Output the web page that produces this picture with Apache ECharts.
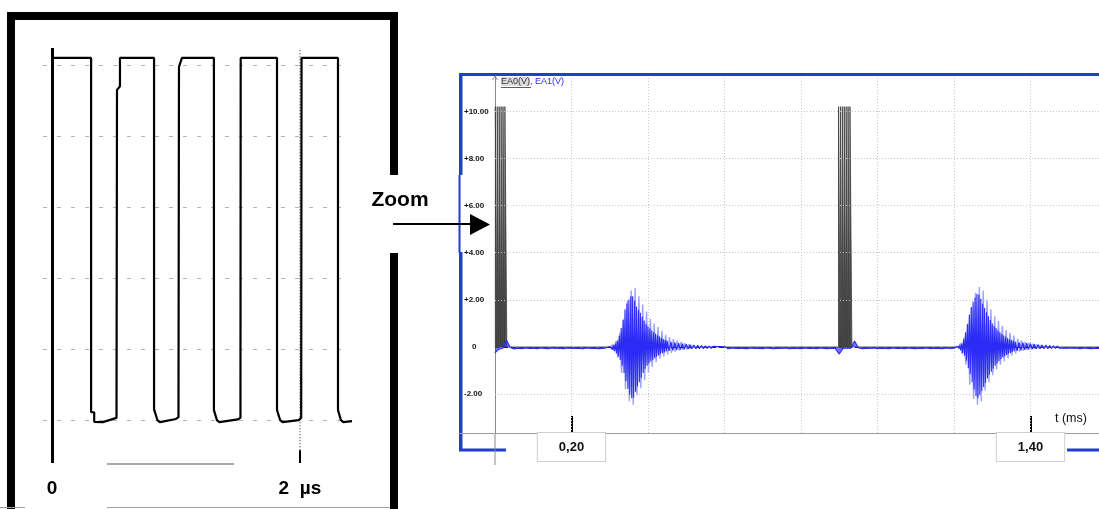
<!DOCTYPE html>
<html><head><meta charset="utf-8">
<script src="https://cdn.jsdelivr.net/npm/echarts@6/dist/echarts.min.js"></script>
<style>html,body{margin:0;padding:0;background:#fff}#c{width:1099px;height:509px}</style>
</head><body><div id="c"></div>
<script>
// ---------- Left panel: zoom on the emitted pulses (t in µs, U in V) ----------
const leftTickLabels = [0, 2];
const leftYGrid = [0, 2, 4, 6, 8, 10];
const leftWave = [
  [0.01,10.2],
  [0.315,10.2],[0.315,0.22],[0.34,0.22],[0.34,-0.05],[0.41,-0.06],[0.52,0.06],
  [0.524,0.06],[0.524,9.3],[0.548,9.4],[0.548,10.2],
  [0.823,10.2],[0.823,0.3],[0.85,0.0],[0.87,-0.06],[1.0,0.03],[1.02,0.08],
  [1.024,0.08],[1.024,9.95],[1.048,10.2],
  [1.306,10.2],[1.306,0.28],[1.33,0.0],[1.35,-0.06],[1.5,0.02],[1.52,0.06],
  [1.522,0.06],[1.522,10.2],
  [1.815,10.2],[1.815,0.28],[1.84,0.0],[1.86,-0.06],[1.99,0.0],[2.01,0.06],
  [2.013,0.06],[2.013,10.2],
  [2.307,10.2],[2.307,0.28],[2.33,0.0],[2.35,-0.06],[2.42,-0.03]
];

// ---------- Right panel: oscilloscope (t in ms, U in V) ----------
const rightTickLabels = [0.2, 1.4];
const rightXGrid = [0.2, 0.4, 0.6, 0.8, 1.0, 1.2, 1.4];
const rightYLabels = [-2, 0, 2, 4, 6, 8, 10];
const ea0High = 10.2;
const ea0Burst1 = [[0.001,0.005],[0.006,0.010],[0.011,0.015],[0.016,0.020],[0.021,0.025],[0.026,0.031]];
const ea0Burst2 = [[0.898,0.902],[0.903,0.907],[0.908,0.912],[0.913,0.917],[0.918,0.922],[0.923,0.927],[0.928,0.933]];
const ea0End = 1.579;

// EA1 samples (start time, sampling step, values)
const ea1BaseA = [-0.25,-0.1,-0.05,0.3,-0.02,-0.08,-0.05,-0.07,-0.04,-0.06,-0.05,-0.07,-0.04,-0.06,-0.07,-0.04,-0.06,-0.05,-0.07,-0.04,-0.06,-0.05,-0.06,-0.07,-0.04,-0.06,-0.05,-0.07,-0.06,-0.04];
const ea1Echo1 = [0.02,-0.06,0.05,-0.11,0.09,-0.18,0.15,-0.27,0.27,-0.4,0.48,-0.55,0.8,-0.8,1.15,-1.1,1.6,-1.45,1.85,-1.78,2.02,-2.02,2.15,-2.18,2.15,-2.15,1.95,-1.9,1.72,-1.68,1.58,-1.5,1.45,-1.3,1.28,-1.1,1.12,-0.92,0.98,-0.8,0.88,-0.7,0.79,-0.62,0.7,-0.55,0.63,-0.48,0.56,-0.41,0.5,-0.36,0.44,-0.31,0.39,-0.26,0.34,-0.23,0.3,-0.19,0.26];
const ea1Tail1 = [-0.17,0.22,-0.14,0.19,-0.12,0.16,-0.11,0.14,-0.1,0.12,-0.09,0.1,-0.08,0.08,-0.08,0.07,-0.07,0.06,-0.07,0.05,-0.06,0.04,-0.06,0.03,-0.05,0.02,-0.05,0.02,-0.05,0.01];
const ea1BaseB = [-0.07,-0.04,-0.06,-0.05,-0.06,-0.07,-0.04,-0.06,-0.05,-0.07,-0.04,-0.06,-0.07,-0.05,-0.06,-0.04,-0.07,-0.05,-0.06,-0.07,-0.04,-0.06,-0.05,-0.07,-0.04,-0.06,-0.07,-0.05,-0.07,-0.3,-0.06,-0.04,-0.05,0.25,-0.03,-0.07,-0.05,-0.06,-0.04,-0.07,-0.05,-0.06,-0.07,-0.04,-0.06,-0.05,-0.07,-0.04,-0.06,-0.07,-0.05,-0.06,-0.04,-0.07,-0.05,-0.06,-0.07,-0.04,-0.06,-0.05];
const ea1Echo2 = [0.03,-0.07,0.07,-0.15,0.16,-0.25,0.32,-0.37,0.62,-0.58,0.98,-0.9,1.38,-1.15,1.7,-1.5,1.92,-1.8,2.1,-2.08,2.25,-2.18,2.22,-2.05,2.05,-1.87,1.83,-1.7,1.65,-1.52,1.47,-1.34,1.3,-1.18,1.14,-1.05,1.0,-0.92,0.89,-0.8,0.8,-0.7,0.71,-0.6,0.62,-0.52,0.55,-0.45,0.49,-0.39,0.43,-0.34,0.37,-0.28,0.33,-0.25,0.29,-0.21,0.26,-0.18,0.22];
const ea1Tail2 = [-0.16,0.2,-0.14,0.18,-0.12,0.16,-0.1,0.14,-0.09,0.12,-0.08,0.1,-0.08,0.09,-0.07,0.08,-0.07,0.06,-0.06,0.05,-0.06,0.04,-0.05,0.03,-0.05,0.02,-0.05,0.02,-0.04,0.01];
const ea1BaseC = [-0.05,-0.07,-0.04,-0.06,-0.07,-0.05,-0.06];
// lighter trace (larger excursions), sampled between the dark samples
const ea1Light1 = [-0.03,0.1,-0.15,0.25,-0.45,0.6,-1.1,1.2,-1.8,1.95,-2.3,2.4,-2.45,2.5,-2.05,2.15,-1.75,1.8,-1.4,1.5,-1.1,1.2,-0.85,1.0,-0.65,0.85,-0.5,0.68,-0.4,0.52,-0.32,0.42,-0.25,0.34,-0.2,0.27,-0.15,0.21,-0.12,0.16,-0.1,0.12,-0.08,0.09];
const ea1Light2 = [-0.05,0.15,-0.3,0.4,-0.75,1.0,-1.6,1.7,-2.2,2.3,-2.45,2.55,-2.3,2.4,-1.85,2.0,-1.5,1.6,-1.2,1.3,-0.95,1.1,-0.75,0.9,-0.6,0.72,-0.48,0.6,-0.36,0.48,-0.28,0.36,-0.2,0.28,-0.16,0.22,-0.13,0.18,-0.11,0.14,-0.09,0.11,-0.07,0.08];

const ea1Segments = [
  {start:0.00, step:0.01, values:ea1BaseA},
  {start:0.30, step:0.0025, values:ea1Echo1},
  {start:0.455, step:0.005, values:ea1Tail1},
  {start:0.61, step:0.01, values:ea1BaseB},
  {start:1.21, step:0.0025, values:ea1Echo2},
  {start:1.365, step:0.005, values:ea1Tail2},
  {start:1.52, step:0.01, values:ea1BaseC}
];
const ea1LightSegments = [
  {start:0.30125, step:0.005, values:ea1Light1},
  {start:1.21125, step:0.005, values:ea1Light2}
];

function sampled(segs){
  const d=[];
  segs.forEach(s=>s.values.forEach((v,i)=>d.push([+(s.start+i*s.step).toFixed(5), v])));
  return d;
}
function pulses(list){
  const d=[];
  list.forEach(([s,e])=>d.push([s,0],[s,ea0High],[e,ea0High],[e,0]));
  return d;
}
const ea0Data = [...pulses(ea0Burst1), ...pulses(ea0Burst2), [ea0End,0]];
const ea1Data = sampled(ea1Segments);
const ea1LightData = [];
ea1LightSegments.forEach(s=>{ ea1LightData.push(...sampled([s])); ea1LightData.push('-'); });

// axis ranges
const xMinL=-0.073, xMaxL=2.42, yMinL=-1.21, yMaxL=10.48;
const xMinR=-0.094, xMaxR=1.579, yMinR=-3.65, yMaxR=11.5;

const FONT = "'Liberation Sans', Arial, Helvetica, sans-serif";
const noSym = ['none','none'];
const gridStyle = {color:'#c6c6c6', width:1, type:[1,2]};

const leftMarks = [
  ...leftYGrid.map(y=>[{coord:[xMinL,y], lineStyle:{color:'#b4b4b4',width:1,type:[4,10]}},{coord:[2.39,y]}]),
  [{coord:[0,yMinL], lineStyle:{color:'#000',width:3,type:'solid'}},{coord:[0,yMaxL]}],
  [{coord:[2,-0.85], lineStyle:{color:'#8a8a8a',width:2,type:[1,2]}},{coord:[2,yMaxL]}],
  [{coord:[2,yMinL], lineStyle:{color:'#000',width:2,type:'solid'}},{coord:[2,-0.85]}]
];
const rightMarks = [
  ...rightXGrid.map(x=>[{coord:[x,yMinR], lineStyle:gridStyle},{coord:[x,yMaxR]}]),
  ...rightYLabels.filter(y=>y!==0).map(y=>[{coord:[0,y], lineStyle:gridStyle},{coord:[xMaxR,y]}]),
  [{coord:[0,0], lineStyle:{color:'#222', width:1, type:[5,3]}},{coord:[xMaxR,0]}]
];

const chart = echarts.init(document.getElementById('c'));
chart.setOption({
  animation:false,
  backgroundColor:'#fff',
  textStyle:{fontFamily:FONT},
  grid:[
    {left:43, top:48, width:309, height:415},
    {left:459, top:76, width:640, height:357}
  ],
  xAxis:[
    {gridIndex:0, type:'value', min:xMinL, max:xMaxL,
     axisLine:{show:false}, axisTick:{show:false}, splitLine:{show:false},
     axisLabel:{customValues:leftTickLabels, margin:16, fontSize:19, fontWeight:'bold', color:'#000', fontFamily:FONT,
       formatter:v=> v===0 ? '0' : v+'\u00a0\u00a0µs'}},
    {gridIndex:1, type:'value', min:xMinR, max:xMaxR, position:'bottom',
     axisLine:{onZero:false, lineStyle:{color:'#9a9a9a', width:1}},
     axisTick:{customValues:rightTickLabels, inside:true, length:17, lineStyle:{color:'#000', width:2}},
     splitLine:{show:false},
     axisLabel:{customValues:rightTickLabels, margin:0, fontSize:13, fontWeight:'bold', color:'#111', fontFamily:FONT,
       backgroundColor:'#fff', borderColor:'#cfcfcf', borderWidth:1, padding:[7,21,7,21], lineHeight:14,
       formatter:v=>v.toFixed(2).replace('.',',')}}
  ],
  yAxis:[
    {gridIndex:0, type:'value', min:yMinL, max:yMaxL, show:false, splitLine:{show:false}},
    {gridIndex:1, type:'value', min:yMinR, max:yMaxR, position:'left', offset:-36,
     axisLine:{show:true, onZero:false, lineStyle:{color:'#8a8a8a', width:1}},
     axisTick:{show:false}, splitLine:{show:false},
     axisLabel:{customValues:rightYLabels, margin:31, align:'left', fontSize:8, fontWeight:'bold', color:'#111', fontFamily:FONT,
       formatter:v=> v>0 ? '+'+v.toFixed(2) : (v===0 ? '\u2002\u20020' : v.toFixed(2))}}
  ],
  title:{
    left:501, top:77, padding:0,
    text:'{a|EA0(V)}{b|, EA1(V)}',
    textStyle:{rich:{
      a:{fontSize:9, fontWeight:'normal', color:'#333', backgroundColor:'#dcdcdc', fontFamily:FONT},
      b:{fontSize:9, fontWeight:'normal', color:'#2b2bff', fontFamily:FONT}
    }}
  },
  series:[
    {name:'zoom', type:'line', xAxisIndex:0, yAxisIndex:0, data:leftWave, showSymbol:false, symbol:'none',
     lineStyle:{color:'#000', width:2.2}, z:5,
     markLine:{silent:true, symbol:noSym, label:{show:false}, animation:false, data:leftMarks}},
    {name:'EA0', type:'line', xAxisIndex:1, yAxisIndex:1, data:ea0Data, showSymbol:false, symbol:'none',
     lineStyle:{color:'#3c3c3c', width:0.8}, areaStyle:{color:'#4f4f4f', opacity:1}, z:3,
     markLine:{silent:true, symbol:noSym, label:{show:false}, animation:false, data:rightMarks}},
    {name:'EA1 light', type:'line', xAxisIndex:1, yAxisIndex:1, data:ea1LightData, showSymbol:false, symbol:'none',
     connectNulls:false, lineStyle:{color:'#9ca2ff', width:1.4}, areaStyle:{color:'#9ca2ff', opacity:0.8}, z:4},
    {name:'EA1', type:'line', xAxisIndex:1, yAxisIndex:1, data:ea1Data, showSymbol:false, symbol:'none',
     lineStyle:{color:'#2b2bf5', width:1.1}, areaStyle:{color:'#3636f5', opacity:0.7}, z:5}
  ],
  graphic:[
    // left black frame
    {type:'rect', shape:{x:7,y:12,width:8,height:497}, style:{fill:'#000'}},
    {type:'rect', shape:{x:7,y:12,width:391,height:8}, style:{fill:'#000'}},
    {type:'rect', shape:{x:390,y:12,width:8,height:163}, style:{fill:'#000'}},
    {type:'rect', shape:{x:390,y:253,width:8,height:256}, style:{fill:'#000'}},
    {type:'line', shape:{x1:107,y1:464,x2:234,y2:464}, style:{stroke:'#8c8c8c', lineWidth:1.5}},
    {type:'line', shape:{x1:0,y1:507.5,x2:25,y2:507.5}, style:{stroke:'#a0a0a0', lineWidth:1}},
    {type:'line', shape:{x1:107,y1:507.5,x2:390,y2:507.5}, style:{stroke:'#a0a0a0', lineWidth:1}},
    // zoom arrow
    {type:'text', x:400, y:200, style:{text:'Zoom', font:'bold 21px '+FONT, fill:'#000', align:'center', verticalAlign:'middle'}},
    {type:'line', shape:{x1:393,y1:224,x2:472,y2:224}, style:{stroke:'#000', lineWidth:2}, z:10},
    {type:'polygon', shape:{points:[[470,214],[490,224.5],[470,235]]}, style:{fill:'#000'}, z:10},
    // right blue frame
    {type:'rect', shape:{x:459,y:73,width:640,height:3}, style:{fill:'#1f3fcc'}},
    {type:'rect', shape:{x:459,y:73,width:3.5,height:102}, style:{fill:'#1f3fcc'}},
    {type:'rect', shape:{x:458.5,y:175,width:2,height:78}, style:{fill:'#1f3fcc'}},
    {type:'rect', shape:{x:459,y:252,width:3.5,height:199}, style:{fill:'#1f3fcc'}},
    {type:'rect', shape:{x:459,y:448.5,width:47,height:3}, style:{fill:'#1f3fcc'}},
    {type:'rect', shape:{x:1067,y:448.5,width:32,height:3}, style:{fill:'#1f3fcc'}},
    // y-axis arrow head and extension
    {type:'polyline', shape:{points:[[492.5,80],[495,76],[497.5,80]]}, style:{stroke:'#8a8a8a', lineWidth:1, fill:null}},
    {type:'line', shape:{x1:495,y1:433,x2:495,y2:465}, style:{stroke:'#8a8a8a', lineWidth:1}},
    // legend underline and axis name
    {type:'line', shape:{x1:501,y1:87.5,x2:531,y2:87.5}, style:{stroke:'#333', lineWidth:0.8}},
    {type:'text', x:1055, y:419, style:{text:'t (ms)', font:'12.5px '+FONT, fill:'#111', verticalAlign:'middle'}}
  ]
});
</script></body></html>
